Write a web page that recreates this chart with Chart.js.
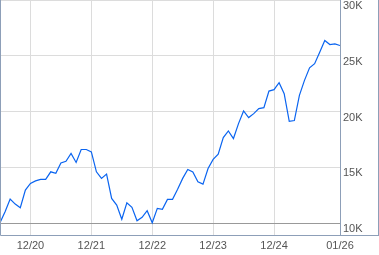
<!DOCTYPE html>
<html>
<head>
<meta charset="utf-8">
<script src="https://cdn.jsdelivr.net/npm/chart.js@4"></script>
<style>
  html, body { margin: 0; padding: 0; background: #fff; }
  #wrap { width: 379px; height: 255px; }
</style>
</head>
<body>
<div id="wrap"><canvas id="myChart" width="379" height="255"></canvas></div>
<script>
// monthly values, Jun 2020 .. Jan 2026 (index 0..67)
const values = [
  10050, 11040, 12170, 11720, 11390, 12970, 13570, 13800, 13930, 13930,
  14610, 14470, 15410, 15560, 16250, 15450, 16610, 16610, 16390, 14610,
  14020, 14400, 12230, 11630, 10360, 11840, 11430, 10230, 10540, 11130,
  10050, 11340, 11250, 12140, 12140, 13040, 14020, 14820, 14600, 13720,
  13510, 14910, 15720, 16190, 17680, 18270, 17590, 18930, 20060, 19470,
  19820, 20270, 20360, 21840, 21970, 22590, 21610, 19130, 19200, 21460,
  22800, 23930, 24290, 25320, 26370, 26010, 26070, 25920
];
const xTickPos = [6, 18, 30, 42, 54, 67];
const xTickLabels = ["12/20", "12/21", "12/22", "12/23", "12/24", "01/26"];
const yTicks = [10000, 15000, 20000, 25000, 30000];

const frameColor = "#8d9fb8";

const framePlugin = {
  id: "frame",
  afterDraw(chart) {
    const c = chart.ctx;
    const a = chart.chartArea;
    c.save();
    c.strokeStyle = frameColor;
    c.lineWidth = 1;
    c.beginPath();
    c.moveTo(0.5, 0);
    c.lineTo(0.5, a.bottom + 0.5);
    c.lineTo(chart.width, a.bottom + 0.5);
    c.moveTo(Math.round(a.right) + 0.5, 0);
    c.lineTo(Math.round(a.right) + 0.5, a.bottom);
    c.moveTo(chart.width - 0.5, 0);
    c.lineTo(chart.width - 0.5, a.bottom);
    c.stroke();
    c.restore();
  }
};

const ctx = document.getElementById("myChart").getContext("2d");
const myChart = new Chart(ctx, {
  type: "line",
  data: {
    datasets: [
      {
        data: values.map((v, i) => ({ x: i, y: v })),
        borderColor: "#0a64f0",
        borderWidth: 1.2,
        pointRadius: 0,
        tension: 0,
        fill: false,
      },
    ],
  },
  options: {
    responsive: false,
    animation: false,
    layout: { padding: 0 },
    plugins: {
      legend: { display: false },
      tooltip: { enabled: false },
    },
    scales: {
      x: {
        type: "linear",
        min: 0,
        max: 67,
        afterBuildTicks: (s) => { s.ticks = xTickPos.map((v) => ({ value: v })); },
        afterFit: (s) => {
          s.height = 20;
          s.paddingLeft = 0;
          s.paddingRight = 0;
        },
        ticks: {
          autoSkip: false,
          maxRotation: 0,
          padding: 4,
          color: "#555",
          font: { family: "Arial, 'Liberation Sans'", size: 11 },
          callback: (v) => xTickLabels[xTickPos.indexOf(v)],
        },
        grid: { color: "#dcdcdc", drawTicks: false },
        border: { display: false },
      },
      y: {
        position: "right",
        min: 8950,
        max: 30000,
        afterBuildTicks: (s) => { s.ticks = yTicks.map((v) => ({ value: v })); },
        afterFit: (s) => {
          s.width = 39;
          s.paddingTop = 0;
          s.paddingBottom = 0;
        },
        ticks: {
          padding: 3,
          labelOffset: 6,
          color: "#555",
          font: { family: "Arial, 'Liberation Sans'", size: 11 },
          callback: (v) => v / 1000 + "K",
        },
        grid: {
          drawTicks: false,
          color: (c) => (c.tick && c.tick.value === 10000 ? "#999" : "#dcdcdc"),
        },
        border: { display: false },
      },
    },
  },
  plugins: [framePlugin],
});
</script>
</body>
</html>
